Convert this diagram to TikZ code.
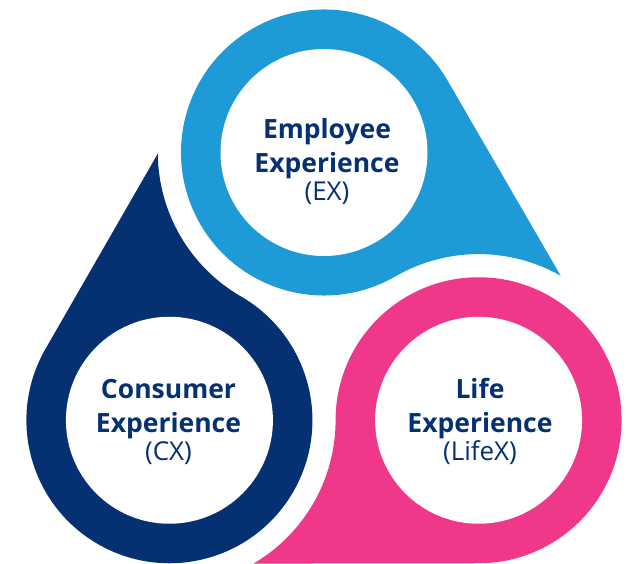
\documentclass[tikz,border=0pt]{standalone}
\usepackage{fontspec}
\setmainfont{Open Sans}
\usetikzlibrary{calc}
\definecolor{exblue}{RGB}{30,154,215}
\definecolor{cxnavy}{RGB}{5,48,113}
\definecolor{lxpink}{RGB}{239,56,137}
\tikzset{drop label/.style={text=cxnavy, align=center, anchor=base, inner sep=0,
  font=\fontsize{26.5}{34}\selectfont\bfseries}}

\begin{document}
\begin{tikzpicture}[x=1pt,y=1pt]
\clip (0,0) rectangle (630,563);
\coordinate (mid) at (324,232);
% three drops, each cut by the ring of the next one
\foreach \a/\col/\nm in {90/exblue/ex, 210/cxnavy/cx, 330/lxpink/lx} {
 \coordinate (\nm) at ($(mid)+(\a:178.5)$);
 \coordinate (\nm-nb) at ($(mid)+(\a-120:178.5)$);
 \fill[\col] ($(\nm-nb)+(\a-29.6:166.2)$) -- ($(\nm)+(\a-59.7:143)$)
   arc[start angle=\a-59.7, end angle=\a+210, radius=143]
   arc[start angle=\a+30, end angle=\a-29.6, radius=166.2] -- cycle;
 \fill[white] (\nm) circle (103.5);
}
% labels, placed at the baseline of their last line
\node[drop label] (ex-text) at (327,362.3) {Employee\\Experience\\[-6pt]{\mdseries\fontsize{26}{28}\selectfont (EX)}};
\node[drop label] (cx-text) at (168.5,102.3) {Consumer\\Experience\\[-6pt]{\mdseries\fontsize{26}{28}\selectfont (CX)}};
\node[drop label] (lx-text) at (480,102) {Life\\Experience\\[-6pt]{\mdseries\fontsize{26}{28}\selectfont (LifeX)}};
\end{tikzpicture}
\end{document}
